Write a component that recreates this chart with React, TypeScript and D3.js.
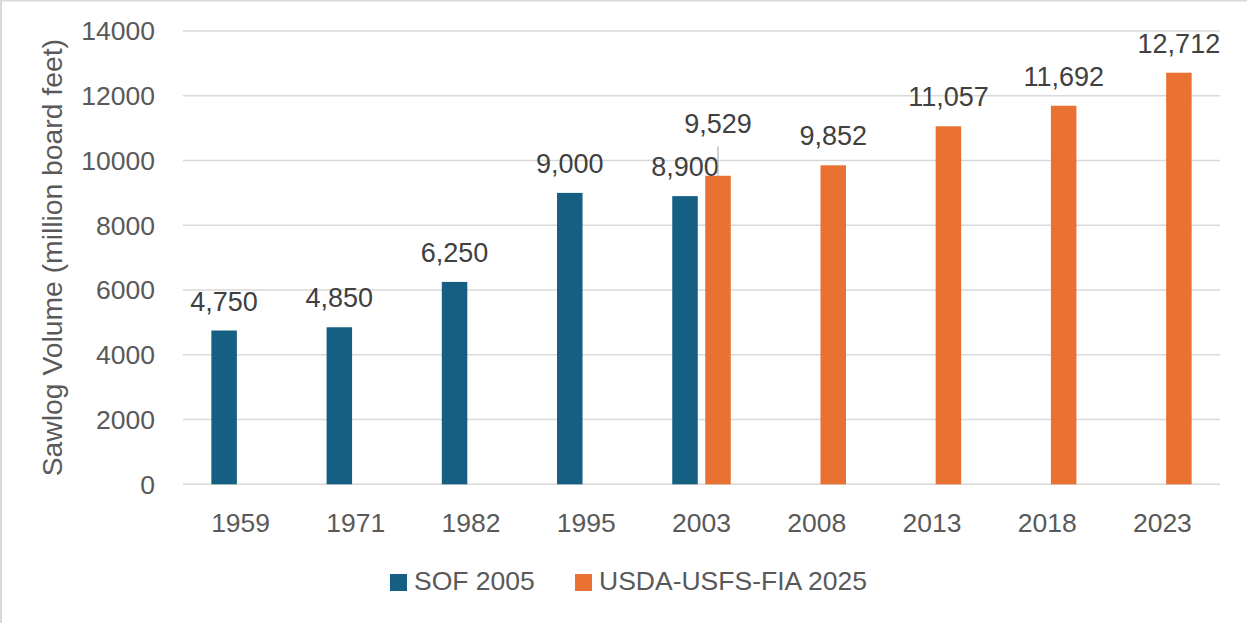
import React from "react";
import * as d3 from "d3";

// Survey years on the x axis
const years = ["1959", "1971", "1982", "1995", "2003", "2008", "2013", "2018", "2023"];

// Sawlog volume, million board feet (null = no bar)
const sofValues: (number | null)[] = [4750, 4850, 6250, 9000, 8900, null, null, null, null];
const usdaValues: (number | null)[] = [null, null, null, null, 9529, 9852, 11057, 11692, 12712];

const seriesNames = ["SOF 2005", "USDA-USFS-FIA 2025"];
const seriesColors = ["#156082", "#E97132"];
const yTicks = [0, 2000, 4000, 6000, 8000, 10000, 12000, 14000];

const width = 1247;
const height = 623;
const margin = { left: 183, right: 27, top: 31, bottom: 138.7 };
const font = "'Liberation Sans', Arial, sans-serif";

const App = () => {
  const innerW = width - margin.left - margin.right;
  const innerH = height - margin.top - margin.bottom;

  // category bands, then a small band for the two series inside each
  const x0 = d3.scaleBand<string>().domain(years).range([0, innerW]).padding(0);
  const groupW = 58.5;
  const x1 = d3
    .scaleBand<string>()
    .domain(seriesNames)
    .range([(x0.bandwidth() - groupW) / 2, (x0.bandwidth() + groupW) / 2])
    .paddingInner(0.227);
  const y = d3.scaleLinear().domain([0, 14000]).range([innerH, 0]);
  const fmt = d3.format(",");

  const series = [sofValues, usdaValues];

  return (
    <svg
      width={width}
      height={height}
      style={{ position: "absolute", left: 0, top: 0, background: "#fff" }}
      fontFamily={font}
    >
      <rect x={1} y={0.5} width={1400} height={1400} fill="none" stroke="#D9D9D9" strokeWidth={2} />

      <g transform={`translate(${margin.left},${margin.top})`}>
        {/* grid lines + y tick labels */}
        {yTicks.map((t) => (
          <g key={t}>
            <line x1={0} x2={innerW} y1={y(t)} y2={y(t)} stroke="#D9D9D9" strokeWidth={1.5} />
            <text x={-28} y={y(t)} dy="0.35em" textAnchor="end" fontSize={26.5} fill="#595959">
              {t}
            </text>
          </g>
        ))}

        {/* bars */}
        {series.map((vals, si) =>
          vals.map((v, i) =>
            v == null ? null : (
              <rect
                key={`${si}-${i}`}
                x={(x0(years[i]) ?? 0) + (x1(seriesNames[si]) ?? 0)}
                y={y(v)}
                width={x1.bandwidth()}
                height={innerH - y(v)}
                fill={seriesColors[si]}
              />
            )
          )
        )}

        {/* data labels */}
        {series.map((vals, si) =>
          vals.map((v, i) => {
            if (v == null) return null;
            const cx = (x0(years[i]) ?? 0) + (x1(seriesNames[si]) ?? 0) + x1.bandwidth() / 2;
            // the 2003 USDA label was dragged up in the original, with a leader line
            const moved = si === 1 && i === 4;
            const ly = y(v) - (moved ? 42.5 : 20);
            return (
              <g key={`l-${si}-${i}`}>
                {moved && (
                  <line x1={cx} x2={cx} y1={ly + 13} y2={y(v)} stroke="#A6A6A6" strokeWidth={1} />
                )}
                <text x={cx} y={ly} textAnchor="middle" fontSize={27} fill="#404040">
                  {fmt(v)}
                </text>
              </g>
            );
          })
        )}

        {/* x tick labels */}
        {years.map((yr) => (
          <text
            key={yr}
            x={(x0(yr) ?? 0) + x0.bandwidth() / 2}
            y={innerH + 47.5}
            textAnchor="middle"
            fontSize={26.5}
            fill="#595959"
          >
            {yr}
          </text>
        ))}
      </g>

      {/* y axis title */}
      <text
        transform={`translate(61.5,${margin.top + innerH / 2}) rotate(-90)`}
        textAnchor="middle"
        fontSize={28.3}
        fill="#595959"
      >
        Sawlog Volume (million board feet)
      </text>

      {/* legend */}
      {seriesNames.map((name, i) => {
        const lx = [390, 575][i];
        return (
          <g key={name}>
            <rect x={lx} y={574} width={17} height={17} fill={seriesColors[i]} />
            <text x={lx + 24} y={590} fontSize={26.5} fill="#595959">
              {name}
            </text>
          </g>
        );
      })}
    </svg>
  );
};

export default App;
